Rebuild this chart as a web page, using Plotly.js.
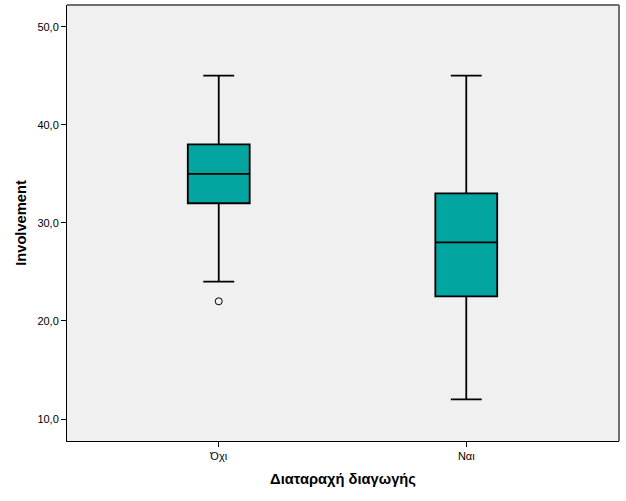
<!DOCTYPE html>
<html>
<head>
<meta charset="utf-8">
<script src="https://cdn.plot.ly/plotly-3.0.1.min.js"></script>
<style>html,body{margin:0;padding:0;background:#fff;}#chart{width:626px;height:501px;}</style>
</head>
<body>
<div id="chart"></div>
<script>
var categories = ["Όχι", "Ναι"];
var q1 = [32, 22.5];
var medians = [35, 28];
var q3 = [38, 33];
var lowerWhisker = [24, 12];
var upperWhisker = [45, 45];
var outlierCategory = ["Όχι"];
var outlierValues = [22];
var yTicks = [10, 20, 30, 40, 50];
var yTickLabels = ["10,0", "20,0", "30,0", "40,0", "50,0"];

var traces = [
  {
    type: "box",
    x: categories,
    q1: q1,
    median: medians,
    q3: q3,
    lowerfence: lowerWhisker,
    upperfence: upperWhisker,
    width: 0.25,
    whiskerwidth: 0.5,
    fillcolor: "#02A5A0",
    line: {color: "#000000", width: 1.8},
    boxpoints: false,
    hoverinfo: "skip",
    showlegend: false
  },
  {
    type: "scatter",
    mode: "markers",
    x: outlierCategory,
    y: outlierValues,
    marker: {symbol: "circle-open", size: 7, color: "#000000", line: {width: 1, color: "#000000"}},
    showlegend: false,
    hoverinfo: "skip"
  }
];

var layout = {
  width: 626,
  height: 501,
  margin: {l: 67, r: 7, t: 5, b: 60},
  paper_bgcolor: "#ffffff",
  plot_bgcolor: "#F0F0F0",
  font: {family: "Liberation Sans, Arial, sans-serif", size: 11, color: "#000"},
  showlegend: false,
  xaxis: {
    type: "category",
    range: [-0.613, 1.617],
    showgrid: false,
    zeroline: false,
    showline: true,
    linecolor: "#000",
    linewidth: 1,
    ticks: "outside",
    ticklen: 5,
    tickcolor: "#000",
    tickfont: {size: 11},
    title: {text: "<b>Διαταραχή διαγωγής</b>", font: {size: 14.7}, standoff: 12}
  },
  yaxis: {
    range: [7.76, 52.21],
    tickvals: yTicks,
    ticktext: yTickLabels,
    showgrid: false,
    zeroline: false,
    showline: true,
    linecolor: "#000",
    linewidth: 1,
    ticks: "outside",
    ticklen: 5,
    tickcolor: "#000",
    tickfont: {size: 11},
    title: {text: "<b>Involvement</b>", font: {size: 14.7}, standoff: 7}
  },
  shapes: [
    {type: "line", xref: "paper", yref: "paper", x0: 0, x1: 1, y0: 1, y1: 1, line: {color: "#6e6e6e", width: 2}},
    {type: "line", xref: "paper", yref: "paper", x0: 1, x1: 1, y0: 0, y1: 1, line: {color: "#6e6e6e", width: 2}}
  ]
};

Plotly.newPlot("chart", traces, layout, {displayModeBar: false, staticPlot: true});
</script>
</body>
</html>
